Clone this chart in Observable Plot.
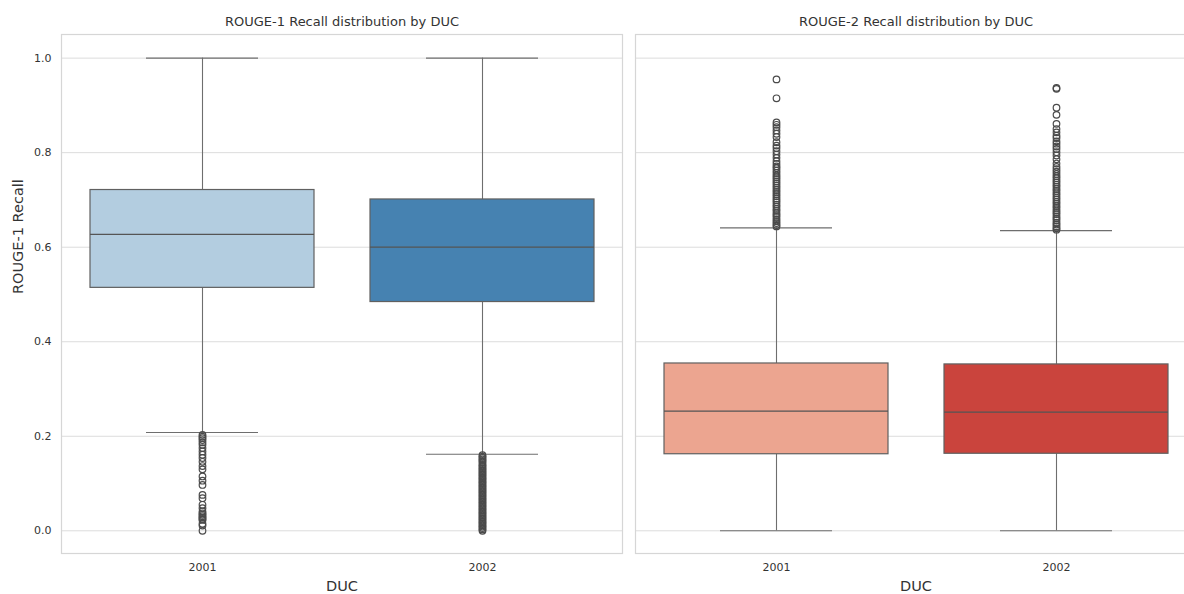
<!DOCTYPE html>
<html>
<head>
<meta charset="utf-8">
<script src="https://cdn.jsdelivr.net/npm/d3@7"></script>
<script src="https://cdn.jsdelivr.net/npm/@observablehq/plot@0.6"></script>
<style>
  html, body { margin: 0; padding: 0; background: #fff; }
  #wrap { position: relative; width: 1184px; height: 594px; overflow: hidden; background: #fff; }
  #wrap > div { position: absolute; top: 0; }
  #wrap svg { max-width: none !important; }
</style>
</head>
<body>
<div id="wrap"><div id="left" style="left:0;width:628px"></div><div id="right" style="left:630px;width:571px"></div></div>
<script>
// ---- data ----
const years = ["2001", "2002"];
const yTicks = [0.0, 0.2, 0.4, 0.6, 0.8, 1.0];

// ROUGE-1 Recall box statistics
const r1Q1 = [0.514, 0.484];
const r1Median = [0.627, 0.600];
const r1Q3 = [0.721, 0.701];
const r1WhiskerLow = [0.208, 0.162];
const r1WhiskerHigh = [1.0, 1.0];
const r1Out2001 = [0.203, 0.199, 0.196, 0.192, 0.187, 0.182, 0.175, 0.168, 0.161, 0.154, 0.146, 0.137, 0.130, 0.115, 0.106, 0.097, 0.076, 0.069, 0.055, 0.048, 0.041, 0.037, 0.034, 0.031, 0.028, 0.025, 0.023, 0.015, 0.011, 0.0];
const r1Out2002 = [0.160, 0.157, 0.154, 0.151, 0.148, 0.145, 0.141, 0.138, 0.135, 0.132, 0.129, 0.126, 0.123, 0.120, 0.117, 0.114, 0.111, 0.108, 0.105, 0.102, 0.099, 0.096, 0.093, 0.090, 0.087, 0.084, 0.081, 0.078, 0.075, 0.072, 0.069, 0.066, 0.063, 0.060, 0.057, 0.054, 0.051, 0.048, 0.045, 0.042, 0.039, 0.036, 0.033, 0.030, 0.027, 0.024, 0.021, 0.018, 0.015, 0.012, 0.009, 0.006, 0.003, 0.0];

// ROUGE-2 Recall box statistics
const r2Q1 = [0.162, 0.163];
const r2Median = [0.253, 0.251];
const r2Q3 = [0.354, 0.352];
const r2WhiskerLow = [0.0, 0.0];
const r2WhiskerHigh = [0.641, 0.635];
const r2Out2001 = [0.955, 0.915, 0.864, 0.859, 0.854, 0.847, 0.840, 0.833, 0.822, 0.815, 0.810, 0.803, 0.796, 0.789, 0.782, 0.776, 0.771, 0.767, 0.762, 0.757, 0.752, 0.748, 0.744, 0.739, 0.735, 0.730, 0.726, 0.721, 0.717, 0.712, 0.708, 0.703, 0.699, 0.695, 0.690, 0.686, 0.681, 0.677, 0.672, 0.668, 0.664, 0.659, 0.655, 0.651, 0.647, 0.644];
const r2Out2002 = [0.937, 0.935, 0.895, 0.880, 0.861, 0.850, 0.843, 0.836, 0.831, 0.824, 0.819, 0.813, 0.808, 0.801, 0.794, 0.786, 0.777, 0.770, 0.765, 0.760, 0.755, 0.750, 0.746, 0.741, 0.737, 0.732, 0.728, 0.723, 0.719, 0.714, 0.710, 0.705, 0.701, 0.696, 0.692, 0.687, 0.683, 0.678, 0.674, 0.670, 0.665, 0.661, 0.657, 0.652, 0.648, 0.644, 0.640, 0.637];

const blues = ["#b3cde0", "#4682b1"];
const reds = ["#eca590", "#ca443d"];

// ---- drawing ----
function panel(o) {
  const stats = years.map((y, i) => ({
    year: y, q1: o.q1[i], med: o.med[i], q3: o.q3[i], lo: o.lo[i], hi: o.hi[i], color: o.colors[i]
  }));
  const out = o.outliers.flatMap((vals, i) => vals.map(v => ({year: years[i], value: v})));
  const marks = [
    Plot.gridY(yTicks, {stroke: "#dcdcdc", strokeOpacity: 1, strokeWidth: 1}),
    Plot.frame({stroke: "#d6d6d6", strokeWidth: 1.2}),
    Plot.ruleX(stats, {x: "year", y1: "lo", y2: "q1", stroke: "#6e6e6e", strokeWidth: 1.1}),
    Plot.ruleX(stats, {x: "year", y1: "q3", y2: "hi", stroke: "#6e6e6e", strokeWidth: 1.1}),
    Plot.tickY(stats, {x: "year", y: "lo", stroke: "#6e6e6e", strokeWidth: 1.1, insetLeft: 56, insetRight: 56}),
    Plot.tickY(stats, {x: "year", y: "hi", stroke: "#6e6e6e", strokeWidth: 1.1, insetLeft: 56, insetRight: 56}),
    Plot.barY(stats, {x: "year", y1: "q1", y2: "q3", fill: "color", stroke: "#606060", strokeWidth: 1.2}),
    Plot.tickY(stats, {x: "year", y: "med", stroke: "#555", strokeWidth: 1.2}),
    Plot.dot(out, {x: "year", y: "value", r: 3.3, stroke: "#4a4a4a", strokeWidth: 1.2, fill: "none"}),
    Plot.axisX({tickSize: 0, tickPadding: 10, label: null, fontSize: 11}),
    Plot.text([o.title], {frameAnchor: "top", dy: -13, fontSize: 13, fill: "#333", lineAnchor: "middle"}),
    Plot.text(["DUC"], {frameAnchor: "bottom", dy: 33, fontSize: 14.5, fill: "#333", lineAnchor: "middle"})
  ];
  if (o.ylabel) {
    marks.push(Plot.axisY(yTicks, {tickSize: 0, tickPadding: 10, tickFormat: d3.format(".1f"), label: null, fontSize: 11}));
    marks.push(Plot.text([o.ylabel], {frameAnchor: "left", dx: -43, rotate: -90, fontSize: 14.5, fill: "#333", lineAnchor: "middle"}));
  }
  return Plot.plot({
    width: o.width,
    height: 594,
    marginLeft: o.marginLeft,
    marginRight: o.marginRight,
    marginTop: 34,
    marginBottom: 41,
    style: {fontFamily: "DejaVu Sans", color: "#333", background: "#fff", overflow: "visible", maxWidth: "none"},
    x: {domain: years, paddingInner: 0.2, paddingOuter: 0.1, axis: null},
    y: {domain: [-0.048, 1.05], axis: null},
    color: {type: "identity"},
    marks
  });
}

document.getElementById("left").appendChild(panel({
  width: 628, marginLeft: 61, marginRight: 6,
  title: "ROUGE-1 Recall distribution by DUC", ylabel: "ROUGE-1 Recall",
  q1: r1Q1, med: r1Median, q3: r1Q3, lo: r1WhiskerLow, hi: r1WhiskerHigh,
  colors: blues, outliers: [r1Out2001, r1Out2002]
}));
document.getElementById("right").appendChild(panel({
  width: 571, marginLeft: 5, marginRight: 5,
  title: "ROUGE-2 Recall distribution by DUC", ylabel: null,
  q1: r2Q1, med: r2Median, q3: r2Q3, lo: r2WhiskerLow, hi: r2WhiskerHigh,
  colors: reds, outliers: [r2Out2001, r2Out2002]
}));
</script>
</body>
</html>
